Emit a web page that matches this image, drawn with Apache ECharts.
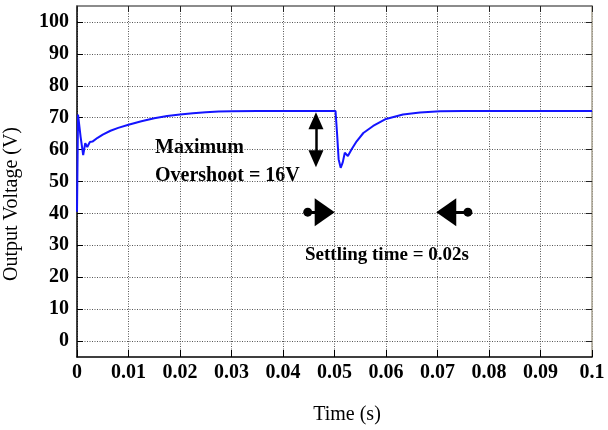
<!DOCTYPE html>
<html>
<head>
<meta charset="utf-8">
<script src="https://cdn.jsdelivr.net/npm/echarts@6/dist/echarts.min.js"></script>
<style>
html,body{margin:0;padding:0;background:#fff;}
#chart{width:608px;height:430px;}
</style>
</head>
<body>
<div id="chart"></div>
<script>
// ---- data ----
const timeValues = [0, 0.0002, 0.0007, 0.0012, 0.0016, 0.0020, 0.0025, 0.003, 0.004, 0.005, 0.0065, 0.008, 0.010, 0.0125, 0.015, 0.0175, 0.020, 0.0225, 0.025, 0.0275, 0.030, 0.035, 0.0502, 0.0505, 0.0508, 0.0512, 0.0516, 0.0520, 0.0526, 0.0533, 0.0543, 0.0556, 0.0575, 0.0600, 0.0633, 0.0666, 0.0705, 0.0750, 0.1];
const voltageValues = [40.5, 71.0, 64.0, 58.3, 62.0, 60.8, 62.4, 62.5, 63.7, 64.7, 65.9, 66.8, 67.8, 68.9, 69.8, 70.5, 71.0, 71.4, 71.7, 71.9, 72.0, 72.1, 72.1, 65.0, 57.0, 54.3, 56.0, 59.0, 58.0, 60.0, 62.6, 65.2, 67.4, 69.6, 71.0, 71.6, 72.0, 72.1, 72.1];
const xTickLabels = ['0', '0.01', '0.02', '0.03', '0.04', '0.05', '0.06', '0.07', '0.08', '0.09', '0.1'];
const yTickValues = [0, 10, 20, 30, 40, 50, 60, 70, 80, 90, 100];
const overshootArrow = {t: 0.0464, top: 69.0, bottom: 57.1};
const settleArrowY = 40.4;
const settleLeft = {dot: 0.0448, head: 0.0481};
const settleRight = {dot: 0.0759, head: 0.0717};

const seriesData = timeValues.map((t, i) => [t, voltageValues[i]]);
const serif = '"Liberation Serif", "Times New Roman", serif';

const chart = echarts.init(document.getElementById('chart'));
const gridLine = {show: true, lineStyle: {color: '#555', width: 1, type: [1, 1.5]}};

chart.setOption({
  animation: false,
  backgroundColor: '#fff',
  grid: {left: 77, top: 6, width: 515, height: 351, containLabel: false},
  xAxis: [{
    type: 'value', position: 'bottom', min: 0, max: 0.1, interval: 0.01,
    axisLine: {show: true, onZero: false, lineStyle: {color: '#000', width: 1.5}},
    axisTick: {show: true, inside: true, length: 7, lineStyle: {color: '#000', width: 1}},
    axisLabel: {
      show: true, margin: 6, color: '#000', fontFamily: serif, fontWeight: 'bold', fontSize: 20,
      formatter: v => xTickLabels[Math.round(v / 0.01)]
    },
    splitLine: gridLine
  }, {
    type: 'value', position: 'top', min: 0, max: 0.1, interval: 0.01,
    axisLine: {show: true, onZero: false, lineStyle: {color: '#666', width: 1.5}},
    axisTick: {show: true, inside: true, length: 6, lineStyle: {color: '#222', width: 1}},
    axisLabel: {show: false},
    splitLine: {show: false}
  }],
  yAxis: [{
    type: 'value', position: 'left', min: -5, max: 105,
    axisLine: {show: true, onZero: false, lineStyle: {color: '#000', width: 1.5}},
    axisTick: {show: true, inside: true, length: 6, customValues: yTickValues, lineStyle: {color: '#000', width: 1}},
    axisLabel: {show: true, margin: 8, customValues: yTickValues, color: '#000', fontFamily: serif, fontWeight: 'bold', fontSize: 20},
    splitLine: gridLine
  }, {
    type: 'value', position: 'right', min: -5, max: 105,
    axisLine: {show: true, onZero: false, lineStyle: {color: '#a8a290', width: 1.5}},
    axisTick: {show: true, inside: true, length: 6, customValues: yTickValues, lineStyle: {color: '#222', width: 1}},
    axisLabel: {show: false},
    splitLine: {show: false}
  }],
  series: [{
    type: 'line',
    data: seriesData,
    showSymbol: false,
    symbol: 'none',
    lineStyle: {color: '#1414ff', width: 2},
    z: 3,
    markLine: {
      silent: true,
      animation: false,
      label: {show: false},
      lineStyle: {color: '#000', width: 2.5, type: 'solid'},
      data: [
        [{coord: [overshootArrow.t, overshootArrow.top], symbol: 'triangle', symbolSize: [15, 17]},
         {coord: [overshootArrow.t, overshootArrow.bottom], symbol: 'triangle', symbolSize: [15, 17]}],
        [{coord: [settleLeft.dot, settleArrowY], symbol: 'circle', symbolSize: 9, lineStyle: {width: 3}},
         {coord: [settleLeft.head, settleArrowY], symbol: 'triangle', symbolSize: [28, 20]}],
        [{coord: [settleRight.dot, settleArrowY], symbol: 'circle', symbolSize: 9, lineStyle: {width: 3}},
         {coord: [settleRight.head, settleArrowY], symbol: 'triangle', symbolSize: [28, 20]}]
      ],
      itemStyle: {color: '#000'}
    }
  }],
  graphic: [
    {type: 'text', x: 155, y: 148, style: {text: 'Maximum', fontFamily: serif, fontWeight: 'bold', fontSize: 20, fill: '#000', align: 'left', verticalAlign: 'middle'}},
    {type: 'text', x: 155, y: 176, style: {text: 'Overshoot = 16V', fontFamily: serif, fontWeight: 'bold', fontSize: 20, fill: '#000', align: 'left', verticalAlign: 'middle'}},
    {type: 'text', x: 305, y: 255, style: {text: 'Settling time = 0.02s', fontFamily: serif, fontWeight: 'bold', fontSize: 19, fill: '#000', align: 'left', verticalAlign: 'middle'}},
    {type: 'text', x: 347, y: 415, style: {text: 'Time (s)', fontFamily: serif, fontSize: 20, fill: '#000', align: 'center', verticalAlign: 'middle'}},
    {type: 'text', x: 12, y: 204, rotation: Math.PI / 2, style: {text: 'Output Voltage (V)', fontFamily: serif, fontSize: 20, fill: '#000', align: 'center', verticalAlign: 'middle'}}
  ]
});
</script>
</body>
</html>
